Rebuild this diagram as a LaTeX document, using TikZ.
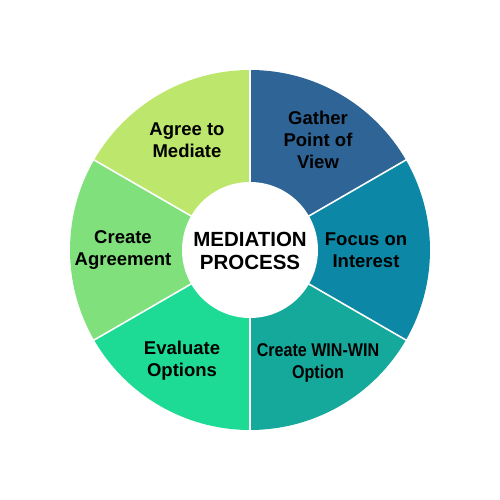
\documentclass[tikz,border=0pt]{standalone}
\usepackage{fontspec}
\setmainfont{Liberation Sans}
\newfontfamily\narrowfont[FakeStretch=0.87]{Liberation Sans}
\definecolor{cGather}{HTML}{2E6596}
\definecolor{cFocus}{HTML}{0C87A6}
\definecolor{cWin}{HTML}{14A99B}
\definecolor{cEval}{HTML}{1DDB94}
\definecolor{cCreate}{HTML}{80E07C}
\definecolor{cAgree}{HTML}{BDE76C}
\tikzset{
  lbl/.style={align=center, font=\fontsize{18.5}{22}\selectfont\bfseries, text=black, inner sep=0pt},
  sep/.style={draw=white, line width=1.6pt},
}
\begin{document}
\begin{tikzpicture}[x=1pt,y=1pt]
\useasboundingbox (0,0) rectangle (500,500);
\fill[white] (0,0) rectangle (500,500);
\begin{scope}[shift={(250,250)}]
  \coordinate (c) at (0,0);
  \foreach \a/\b/\col in {30/90/cGather, -30/30/cFocus, -90/-30/cWin, -150/-90/cEval, 150/210/cCreate, 90/150/cAgree}{
    \fill[\col] (c) -- (\a:180) arc[start angle=\a, end angle=\b, radius=180] -- cycle;
  }
  \foreach \a in {90,30,-30,-90,-150,150}{
    \draw[sep] (c) -- (\a:182);
  }
  \node[circle, fill=white, minimum size=136pt, inner sep=0pt] (hub) at (c) {};
\end{scope}
\node[lbl] (gather) at (318,360) {Gather\\Point of\\View};
\node[lbl] (agree) at (187,360) {Agree to\\Mediate};
\node[lbl] (create) at (123,249.5) {Create\\Agreement};
\node[lbl, font=\fontsize{20.5}{23}\selectfont\bfseries] (center) at (250,249.5) {MEDIATION\\PROCESS};
\node[lbl] (focus) at (366,249.5) {Focus on\\Interest};
\node[lbl] (eval) at (182,139.5) {Evaluate\\Options};
\node[lbl, font=\fontsize{18.5}{22}\narrowfont\bfseries] (win) at (318,137) {Create WIN-WIN\\Option};
\end{tikzpicture}
\end{document}
